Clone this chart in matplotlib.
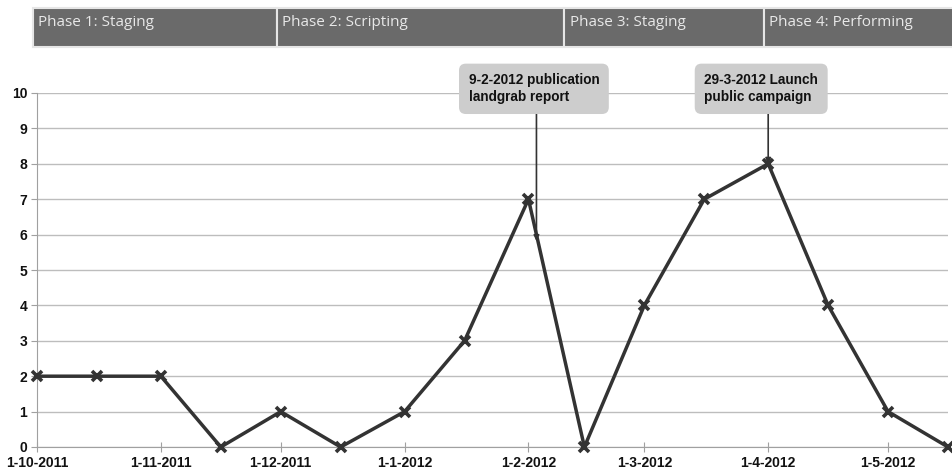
import numpy as np
import pandas as pd
import matplotlib
matplotlib.use("Agg")
import matplotlib.pyplot as plt
import matplotlib.dates as mdates
import matplotlib.transforms as mtransforms
from matplotlib.patches import Rectangle

# data
dates = pd.to_datetime([
    "2011-10-01", "2011-10-16", "2011-11-01", "2011-11-16", "2011-12-01", "2011-12-16",
    "2012-01-01", "2012-01-16", "2012-02-01", "2012-02-15", "2012-03-01", "2012-03-16",
    "2012-04-01", "2012-04-16", "2012-05-01", "2012-05-16",
])
values = [2, 2, 2, 0, 1, 0, 1, 3, 7, 0, 4, 7, 8, 4, 1, 0]

tick_dates = pd.to_datetime([
    "2011-10-01", "2011-11-01", "2011-12-01", "2012-01-01",
    "2012-02-01", "2012-03-01", "2012-04-01", "2012-05-01",
])

phase_names = ["Phase 1: Staging", "Phase 2: Scripting", "Phase 3: Staging", "Phase 4: Performing"]
phase_start = pd.to_datetime(["2011-09-30", "2011-11-30", "2012-02-10", "2012-03-31"])
phase_end = pd.to_datetime(["2011-11-30", "2012-02-10", "2012-03-31", "2012-05-18"])

notes = ["9-2-2012 publication\nlandgrab report", "29-3-2012 Launch\npublic campaign"]
note_text_pos = [(pd.Timestamp("2012-01-17"), 10.56), (pd.Timestamp("2012-03-16"), 10.56)]
note_targets = [(pd.Timestamp("2012-02-03"), 5.82), (pd.Timestamp("2012-04-01"), 8.0)]
note_arrow_top = 9.41

line_col = "#333333"

fig = plt.figure(figsize=(9.52, 4.75), dpi=100)
ax = fig.add_axes([37 / 952, 1 - 447 / 475, (948 - 37) / 952, (447 - 93) / 475])

ax.plot(dates, values, color=line_col, lw=2.5, marker="x", ms=6.5, mew=2.6, zorder=3, clip_on=False)

ax.set_xlim(pd.Timestamp("2011-10-01"), pd.Timestamp("2012-05-16"))
ax.set_ylim(0, 10)
ax.set_yticks(range(0, 11))
ax.set_xticks(tick_dates)
ax.xaxis.set_major_formatter(mdates.DateFormatter("%-d-%-m-%Y"))
ax.grid(axis="y", color="#bdbdbd", lw=1)
ax.set_axisbelow(True)
for s in ["top", "right"]:
    ax.spines[s].set_visible(False)
for s in ["left", "bottom"]:
    ax.spines[s].set_color("#a0a0a0")
ax.tick_params(axis="x", direction="inout", length=7, color="#a0a0a0", pad=3)
ax.tick_params(axis="y", direction="out", length=4, color="#a0a0a0", pad=3)
for lab in ax.get_xticklabels() + ax.get_yticklabels():
    lab.set_fontfamily("Liberation Sans")
    lab.set_fontweight("bold")
    lab.set_fontsize(10)
    lab.set_color("#111111")

# phase bars across the top
trans = mtransforms.blended_transform_factory(ax.transData, fig.transFigure)
y0, y1 = 1 - 47 / 475, 1 - 8 / 475
for name, s, e in zip(phase_names, phase_start, phase_end):
    x0 = mdates.date2num(s)
    x1 = mdates.date2num(e)
    r = Rectangle((x0, y0), x1 - x0, y1 - y0, transform=trans, facecolor="#6a6a6a",
                  edgecolor="#e6e6e6", lw=1.5, clip_on=False)
    fig.add_artist(r)
    fig.text(x0 + 1.3, y0 + (y1 - y0) * 0.63, name, transform=trans, color="#e8e8e8",
             fontsize=11, fontfamily="Open Sans", va="center", ha="left")

# annotations: text boxes plus vertical arrows
for txt, (tx, ty), (px, py) in zip(notes, note_text_pos, note_targets):
    ax.text(tx, ty, txt, ha="left", va="top", fontsize=9.8, fontweight="bold",
            fontfamily="Liberation Sans", color="#111111", linespacing=1.3,
            bbox=dict(boxstyle="round,pad=0.7,rounding_size=0.5", fc="#cdcdcd", ec="none"),
            clip_on=False, zorder=5)
    ax.annotate("", xy=(px, py), xytext=(px, note_arrow_top), textcoords="data",
                arrowprops=dict(arrowstyle="-|>", color=line_col, lw=1.2,
                                mutation_scale=8, shrinkA=0, shrinkB=0),
                annotation_clip=False, zorder=4)

fig.savefig("out.png", dpi=100)
